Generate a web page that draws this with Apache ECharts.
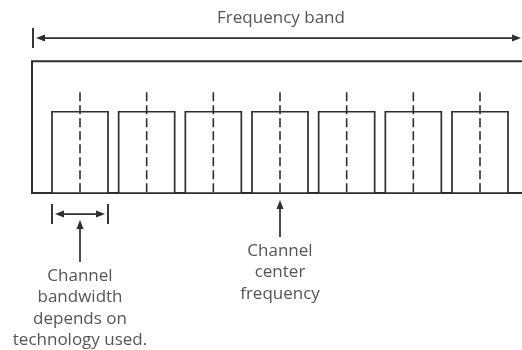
<!DOCTYPE html>
<html lang="en">
<head>
<meta charset="UTF-8">
<title>Frequency band</title>
<style>
    * { margin: 0; padding: 0; }
    html, body { width: 100%; height: 100%; background: #fff; }
    #chart { width: 522px; height: 350px; }
</style>
<script src="https://cdn.jsdelivr.net/npm/echarts@6/dist/echarts.min.js"></script>
</head>
<body>
<div id="chart"></div>
<script>
    // x in channel-spacing units, y in channel-height units (baseline = 0)
    var channelCenters = [1, 2, 3, 4, 5, 6, 7];
    var channelWidth = 0.84;
    var channelHeight = 1;
    var centerLineTop = 1.24;
    var band = [0.28, 7.63];      // start / end of the frequency band
    var bandTop = 1.62;
    var bandArrowY = 1.906;
    var bandTitleY = 2.15;

    var widthChannel = 1;          // channel used for the bandwidth callout
    var widthBarY = -0.258;
    var widthArrow = [-0.332, -0.849];   // tip, tail
    var centerChannel = 4;         // channel used for the center callout
    var centerArrow = [-0.086, -0.541];

    var bandTitle = 'Frequency band';
    var widthNote = ['Channel', 'bandwidth', 'depends on', 'technology used.'];
    var centerNote = ['Channel', 'center', 'frequency'];

    var ink = '#2e2e2e';
    var textColor = '#555';
    var font = '17px "Open Sans"';

    function head(tip, dx, dy) {
        var L = 9, W = 3.5;
        var bx = tip[0] - dx * L, by = tip[1] - dy * L;
        return {
            type: 'polygon',
            shape: { points: [tip, [bx - dy * W, by + dx * W], [bx + dy * W, by - dx * W]] },
            style: { fill: ink }
        };
    }
    function seg(a, b, w) {
        return {
            type: 'line',
            shape: { x1: a[0], y1: a[1], x2: b[0], y2: b[1] },
            style: { stroke: ink, lineWidth: w || 1.6 }
        };
    }
    function note(lines, x, y) {
        return {
            type: 'text',
            style: {
                text: lines.join('\n'), x: x, y: y, align: 'center', verticalAlign: 'top',
                font: font, fill: textColor, lineHeight: 21.5
            }
        };
    }

    var option = {
        animation: false,
        grid: { left: 0, right: 0, top: 0, bottom: 0 },
        xAxis: { type: 'value', min: -0.2, max: band[1], show: false },
        yAxis: { type: 'value', min: -1.93, max: 2.374, show: false },
        series: [
            {
                // band frame, open on the right
                type: 'custom',
                silent: true,
                data: [[band[0], band[1], bandTop]],
                renderItem: function (params, api) {
                    var s = api.value(0), e = api.value(1), t = api.value(2);
                    return {
                        type: 'polyline',
                        shape: { points: [api.coord([e, t]), api.coord([s, t]), api.coord([s, 0]), api.coord([e, 0])] },
                        style: { stroke: ink, lineWidth: 2, fill: null }
                    };
                }
            },
            {
                // channels
                type: 'custom',
                silent: true,
                data: channelCenters.map(function (c) { return [c, channelHeight, channelWidth, centerLineTop]; }),
                renderItem: function (params, api) {
                    var c = api.value(0), h = api.value(1), w = api.value(2), top = api.value(3);
                    var p0 = api.coord([c - w / 2, h]);
                    var p1 = api.coord([c + w / 2, 0]);
                    var t = api.coord([c, top]);
                    var b = api.coord([c, 0]);
                    return {
                        type: 'group',
                        children: [
                            {
                                type: 'rect',
                                shape: { x: p0[0], y: p0[1], width: p1[0] - p0[0], height: p1[1] - p0[1] },
                                style: { stroke: ink, lineWidth: 1.7, fill: '#fff' }
                            },
                            {
                                type: 'line',
                                shape: { x1: t[0], y1: t[1], x2: b[0], y2: b[1] },
                                style: { stroke: ink, lineWidth: 1.6, lineDash: [9, 4] }
                            }
                        ]
                    };
                }
            },
            {
                // frequency band arrow
                type: 'custom',
                silent: true,
                data: [[band[0], band[1], bandArrowY, bandTitleY]],
                renderItem: function (params, api) {
                    var a = api.coord([api.value(0), api.value(2)]);
                    var b = api.coord([api.value(1), api.value(2)]);
                    var tt = api.coord([(api.value(0) + api.value(1)) / 2 + 0.06, api.value(3)]);
                    var l = [a[0] + 1, a[1]];
                    var r = [b[0] - 1, b[1]];
                    return {
                        type: 'group',
                        children: [
                            seg([l[0], l[1] - 10], [l[0], l[1] + 10], 1.9),
                            seg([l[0] + 6, l[1]], [r[0] - 6, r[1]], 1.7),
                            head([l[0] + 3, l[1]], -1, 0),
                            head(r, 1, 0),
                            {
                                type: 'text',
                                style: {
                                    text: bandTitle, x: tt[0], y: tt[1], align: 'center', verticalAlign: 'middle',
                                    font: font, fill: textColor
                                }
                            }
                        ]
                    };
                }
            },
            {
                // bandwidth callout
                type: 'custom',
                silent: true,
                data: [[widthChannel, channelWidth, widthBarY, widthArrow[0], widthArrow[1]]],
                renderItem: function (params, api) {
                    var c = api.value(0), w = api.value(1);
                    var l = api.coord([c - w / 2, api.value(2)]);
                    var r = api.coord([c + w / 2, api.value(2)]);
                    var tip = api.coord([c, api.value(3)]);
                    var tail = api.coord([c, api.value(4)]);
                    return {
                        type: 'group',
                        children: [
                            seg([l[0], l[1] - 10], [l[0], l[1] + 10], 1.9),
                            seg([r[0], r[1] - 10], [r[0], r[1] + 10], 1.9),
                            seg([l[0] + 8, l[1]], [r[0] - 8, r[1]], 1.7),
                            head([l[0] + 3, l[1]], -1, 0),
                            head([r[0] - 3, r[1]], 1, 0),
                            seg([tip[0], tip[1] + 6], tail, 1.7),
                            head(tip, 0, -1),
                            note(widthNote, tail[0], tail[1] + 3)
                        ]
                    };
                }
            },
            {
                // center frequency callout
                type: 'custom',
                silent: true,
                data: [[centerChannel, centerArrow[0], centerArrow[1]]],
                renderItem: function (params, api) {
                    var c = api.value(0);
                    var tip = api.coord([c, api.value(1)]);
                    var tail = api.coord([c, api.value(2)]);
                    return {
                        type: 'group',
                        children: [
                            seg([tip[0], tip[1] + 6], tail, 1.7),
                            head(tip, 0, -1),
                            note(centerNote, tail[0], tail[1] + 3)
                        ]
                    };
                }
            }
        ]
    };

    var myChart = echarts.init(document.getElementById('chart'));
    myChart.setOption(option);
</script>
</body>
</html>
